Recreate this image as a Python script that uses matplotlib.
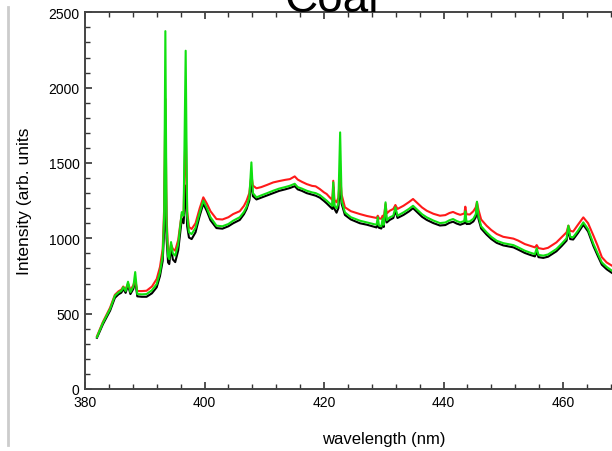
import numpy as np
import matplotlib.pyplot as plt
from matplotlib.lines import Line2D
from matplotlib.ticker import MultipleLocator

plt.rcParams['font.family'] = ['Liberation Sans', 'DejaVu Sans']

# LIBS spectra of coal, three acquisitions
wavelength = [
    382.0, 383.0, 384.2, 385.0, 385.6, 386.1, 386.4, 386.8, 387.2, 387.6,
    388.1, 388.4, 388.75, 389.5, 390.3, 391.2, 392.0, 392.55, 393.0, 393.25,
    393.45, 393.65, 393.9, 394.1, 394.4, 394.7, 395.1, 395.6, 396.0, 396.2,
    396.5, 396.85, 397.1, 397.4, 397.85, 398.5, 399.2, 399.8, 400.4, 401.0,
    402.0, 403.0, 404.0, 404.8, 405.9, 406.6, 407.05, 407.5, 407.85, 408.1,
    408.7, 409.5, 410.5, 411.5, 412.5, 413.5, 414.3, 415.1, 415.6, 416.3,
    417.1, 418.0, 418.6, 419.3, 420.0, 420.45, 421.0, 421.4, 421.55, 421.75,
    422.1, 422.4, 422.7, 422.95, 423.5, 424.5, 426.0, 427.2, 428.25, 428.8,
    429.0, 429.2, 429.6, 429.8, 430.0, 430.3, 430.5, 431.0, 431.6, 431.95,
    432.3, 433.3, 434.2, 434.9, 435.6, 436.4, 437.2, 438.3, 439.4, 440.3,
    441.0, 441.6, 442.2, 442.8, 443.5, 443.65, 443.85, 444.4, 445.0, 445.4,
    445.6, 445.85, 446.3, 447.2, 448.0, 448.9, 450.0, 451.0, 451.7, 452.5,
    453.6, 454.5, 455.3, 455.6, 455.9, 456.7, 457.5, 458.9, 459.8, 460.6,
    460.9, 461.2, 461.7, 462.5, 463.4, 464.2, 465.1, 465.8, 466.5, 467.3,
    468.2, 469.0,
]

spec_green = [
    345, 440, 531, 619, 640, 652, 676, 650, 712, 643,
    680, 776, 630, 628, 630, 655, 697, 774, 885, 1150,
    2375, 1100, 880, 862, 975, 900, 885, 960, 1100, 1174,
    1150, 2245, 1150, 1040, 1028, 1070, 1170, 1250, 1200, 1140,
    1084, 1080, 1095, 1117, 1140, 1175, 1210, 1270, 1504, 1300,
    1272, 1285, 1300, 1316, 1330, 1340, 1349, 1362, 1340, 1330,
    1316, 1305, 1300, 1287, 1265, 1250, 1230, 1215, 1371, 1215,
    1199, 1230, 1703, 1250, 1172, 1140, 1117, 1105, 1095, 1090,
    1140, 1085, 1080, 1130, 1090, 1239, 1120, 1139, 1150, 1206,
    1150, 1172, 1195, 1216, 1190, 1160, 1139, 1118, 1101, 1105,
    1120, 1128, 1115, 1106, 1115, 1180, 1110, 1112, 1130, 1160,
    1243, 1150, 1080, 1040, 1010, 984, 968, 960, 955, 940,
    918, 905, 895, 935, 890, 885, 893, 929, 965, 1000,
    1084, 1010, 1007, 1050, 1106, 1060, 962, 900, 840, 810,
    785, 770,
]

spec_red = [
    350, 445, 540, 625, 648, 660, 680, 660, 700, 655,
    690, 725, 650, 650, 652, 680, 730, 810, 930, 1200,
    1925, 1150, 910, 896, 960, 930, 918, 990, 1110, 1160,
    1170, 1770, 1180, 1075, 1062, 1100, 1200, 1272, 1230, 1180,
    1128, 1125, 1140, 1161, 1180, 1215, 1250, 1300, 1420, 1350,
    1332, 1340, 1355, 1371, 1380, 1388, 1393, 1411, 1390, 1375,
    1360, 1348, 1345, 1327, 1305, 1294, 1270, 1255, 1382, 1255,
    1239, 1270, 1415, 1290, 1206, 1180, 1161, 1148, 1139, 1135,
    1150, 1132, 1130, 1150, 1135, 1228, 1165, 1183, 1195, 1221,
    1195, 1216, 1240, 1261, 1235, 1205, 1183, 1163, 1150, 1154,
    1168, 1175, 1164, 1156, 1165, 1210, 1160, 1158, 1180, 1205,
    1240, 1190, 1125, 1084, 1055, 1029, 1010, 1003, 998, 985,
    962, 950, 940, 955, 935, 929, 937, 973, 1008, 1040,
    1084, 1050, 1045, 1090, 1139, 1100, 1017, 950, 875, 840,
    818, 800,
]

spec_black = [
    340, 430, 520, 605, 628, 640, 665, 638, 690, 630,
    665, 720, 615, 612, 612, 635, 675, 750, 850, 1050,
    1650, 1000, 840, 829, 940, 860, 842, 920, 1060, 1130,
    1100, 1350, 1080, 1005, 995, 1040, 1150, 1230, 1180, 1120,
    1068, 1064, 1080, 1100, 1122, 1160, 1195, 1250, 1380, 1280,
    1258, 1270, 1285, 1300, 1315, 1325, 1334, 1346, 1325, 1315,
    1300, 1290, 1283, 1270, 1248, 1232, 1210, 1195, 1340, 1195,
    1170, 1200, 1349, 1230, 1155, 1125, 1100, 1090, 1078, 1072,
    1100, 1070, 1065, 1100, 1075, 1200, 1105, 1122, 1135, 1185,
    1135, 1155, 1178, 1200, 1173, 1143, 1122, 1101, 1085, 1088,
    1103, 1110, 1098, 1090, 1100, 1150, 1095, 1096, 1112, 1140,
    1210, 1130, 1065, 1025, 995, 970, 953, 945, 940, 925,
    903, 890, 880, 910, 875, 870, 878, 914, 950, 985,
    1060, 995, 992, 1035, 1090, 1045, 948, 885, 825, 795,
    770, 755,
]

fig = plt.figure(figsize=(6.12, 4.52), dpi=100)
ax = fig.add_axes([85 / 612, 1 - 390 / 452, 597.5 / 612, 376.7 / 452])

ax.plot(wavelength, spec_black, color='black', lw=1.5)
ax.plot(wavelength, spec_red, color='#ff1a1a', lw=1.5)
ax.plot(wavelength, spec_green, color='#10e010', lw=1.5)

ax.set_xlim(380, 480)
ax.set_ylim(0, 2500)
ax.xaxis.set_major_locator(MultipleLocator(20))
ax.xaxis.set_minor_locator(MultipleLocator(4))
ax.yaxis.set_major_locator(MultipleLocator(500))
ax.yaxis.set_minor_locator(MultipleLocator(100))
ax.tick_params(which='both', direction='in', top=True, right=True,
               labelsize=10, color='#333333', pad=4)
ax.tick_params(which='major', length=5, width=1.2)
ax.tick_params(which='minor', length=3.5, width=1.0)
for s in ax.spines.values():
    s.set_color('#444444')
    s.set_linewidth(1.4)

ax.set_xlabel('wavelength (nm)', fontsize=12, labelpad=16)
ax.set_ylabel('Intensity (arb. units', fontsize=12.5, labelpad=12)

fig.text(332 / 612, 1 - 12.5 / 452, 'Coal', ha='center', va='baseline',
         fontsize=33)
fig.add_artist(Line2D([8 / 612, 8 / 612], [1 - 8 / 452, 1 - 446 / 452],
                      transform=fig.transFigure, color='#cccccc', lw=2))

fig.savefig('out.png', dpi=100)
